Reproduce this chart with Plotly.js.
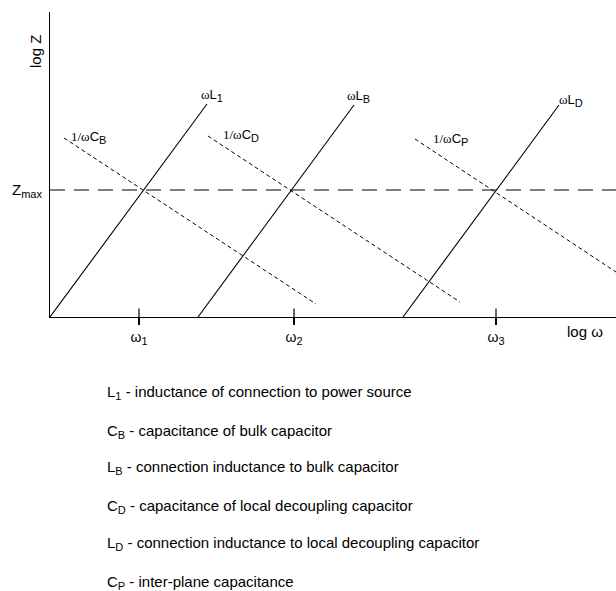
<!DOCTYPE html>
<html>
<head>
<meta charset="utf-8">
<script src="https://cdn.plot.ly/plotly-3.0.1.min.js"></script>
<style>html,body{margin:0;padding:0;background:#fff;}#chart{width:616px;height:591px;}</style>
</head>
<body>
<div id="chart"></div>
<script>
// Inductive asymptotes (log ω, log Z) endpoints
const indL1x = [0, 3.14], indL1y = [0, 4.26];
const indLBx = [2.96, 6.08], indLBy = [0, 4.24];
const indLDx = [7.06, 10.18], indLDy = [0, 4.24];
// Capacitive asymptotes
const capCBx = [0.28, 5.32], capCBy = [3.58, 0.26];
const capCDx = [3.16, 8.2], capCDy = [3.62, 0.30];
const capCPx = [7.3, 11.32], capCPy = [3.56, 0.9];
// Target impedance
const zmaxX = [0, 11.32], zmaxY = [2.54, 2.54];
// Frequency markers
const sub = (s, px) => '<sub><span style="font-size:' + px + 'px">' + s + '</span></sub>';
const omegaTicks = [1.78, 4.88, 8.92];
const omegaText = ['ω' + sub('1', 11), 'ω' + sub('2', 11), 'ω' + sub('3', 11)];
// Curve labels
const serif = s => '<span style="font-family:\'Liberation Serif\',serif">' + s + '</span>';
const curveLabels = [
  serif('ω') + 'L' + sub('1', 11),
  serif('ω') + 'L' + sub('B', 11),
  serif('ω') + 'L' + sub('D', 11),
  serif('1/ω') + 'C' + sub('B', 11),
  serif('1/ω') + 'C' + sub('D', 11),
  serif('1/ω') + 'C' + sub('P', 11)
];
const curveLabelX = [3.24, 6.16, 10.42, 0.76, 3.82, 8.0];
const curveLabelY = [4.44, 4.42, 4.34, 3.6, 3.64, 3.56];
// Definitions
const defs = [
  'L' + sub('1', 11) + ' - inductance of connection to power source',
  'C' + sub('B', 11) + ' - capacitance of bulk capacitor',
  'L' + sub('B', 11) + ' - connection inductance to bulk capacitor',
  'C' + sub('D', 11) + ' - capacitance of local decoupling capacitor',
  'L' + sub('D', 11) + ' - connection inductance to local decoupling capacitor',
  'C' + sub('P', 11) + ' - inter-plane capacitance'
];
const defsY = [-0.249, -0.377, -0.495, -0.620, -0.741, -0.869];

const solid = {color: '#000', width: 1.1};
const dotted = {color: '#000', width: 1, dash: '4px,3px'};
const traces = [
  {x: indL1x, y: indL1y, line: solid},
  {x: indLBx, y: indLBy, line: solid},
  {x: indLDx, y: indLDy, line: solid},
  {x: capCBx, y: capCBy, line: dotted},
  {x: capCDx, y: capCDy, line: dotted},
  {x: capCPx, y: capCPy, line: dotted},
  {x: zmaxX, y: zmaxY, line: {color: '#000', width: 1.1, dash: '15px,9px'}}
].map(t => Object.assign({type: 'scatter', mode: 'lines', hoverinfo: 'skip', showlegend: false}, t));

// upper half of the tick marks
const tx = [], ty = [];
omegaTicks.forEach(v => { tx.push(v, v, null); ty.push(0, 0.17, null); });
traces.push({type: 'scatter', mode: 'lines', x: tx, y: ty, line: {color: '#000', width: 1.2}, hoverinfo: 'skip', showlegend: false});

const fam = '"Liberation Sans", Arial, sans-serif';
const annotations = [];
curveLabels.forEach((t, i) => annotations.push({
  text: t, x: curveLabelX[i], y: curveLabelY[i], xref: 'x', yref: 'y',
  xanchor: 'center', yanchor: 'middle',
  showarrow: false, font: {family: fam, size: 13, color: '#000'}
}));
annotations.push({text: 'Z' + sub('max', 11), xref: 'paper', yref: 'y', x: -0.011, y: 2.54,
  xanchor: 'right', yanchor: 'middle', showarrow: false, font: {family: fam, size: 15, color: '#000'}});
annotations.push({text: 'log Z', xref: 'paper', yref: 'y', x: -0.0265, y: 5.3,
  xanchor: 'center', yanchor: 'middle',
  textangle: -90, showarrow: false, font: {family: fam, size: 15, color: '#000'}});
annotations.push({text: 'log ω', xref: 'x', yref: 'paper', x: 10.7, y: -0.049,
  xanchor: 'center', yanchor: 'middle',
  showarrow: false, font: {family: fam, size: 15, color: '#000'}});
defs.forEach((t, i) => annotations.push({
  text: t, xref: 'paper', yref: 'paper', x: 0.0972, y: defsY[i], xanchor: 'left', yanchor: 'middle',
  showarrow: false, font: {family: fam, size: 15, color: '#000'}
}));

const layout = {
  width: 616, height: 591,
  margin: {l: 50, r: 0, t: 12, b: 274, pad: 0},
  paper_bgcolor: '#fff', plot_bgcolor: '#fff',
  showlegend: false,
  xaxis: {range: [0, 11.32], showgrid: false, zeroline: false, showline: true,
    linecolor: '#000', linewidth: 1.3, tickvals: omegaTicks, ticktext: omegaText,
    ticks: 'outside', ticklen: 7, tickwidth: 1.2, tickcolor: '#000',
    tickfont: {family: fam, size: 14, color: '#000'}, fixedrange: true},
  yaxis: {range: [0, 6.1], showgrid: false, zeroline: false, showline: true,
    linecolor: '#000', linewidth: 1.3, showticklabels: false, ticks: '', fixedrange: true},
  annotations: annotations
};
Plotly.newPlot('chart', traces, layout, {staticPlot: true});
</script>
</body>
</html>
